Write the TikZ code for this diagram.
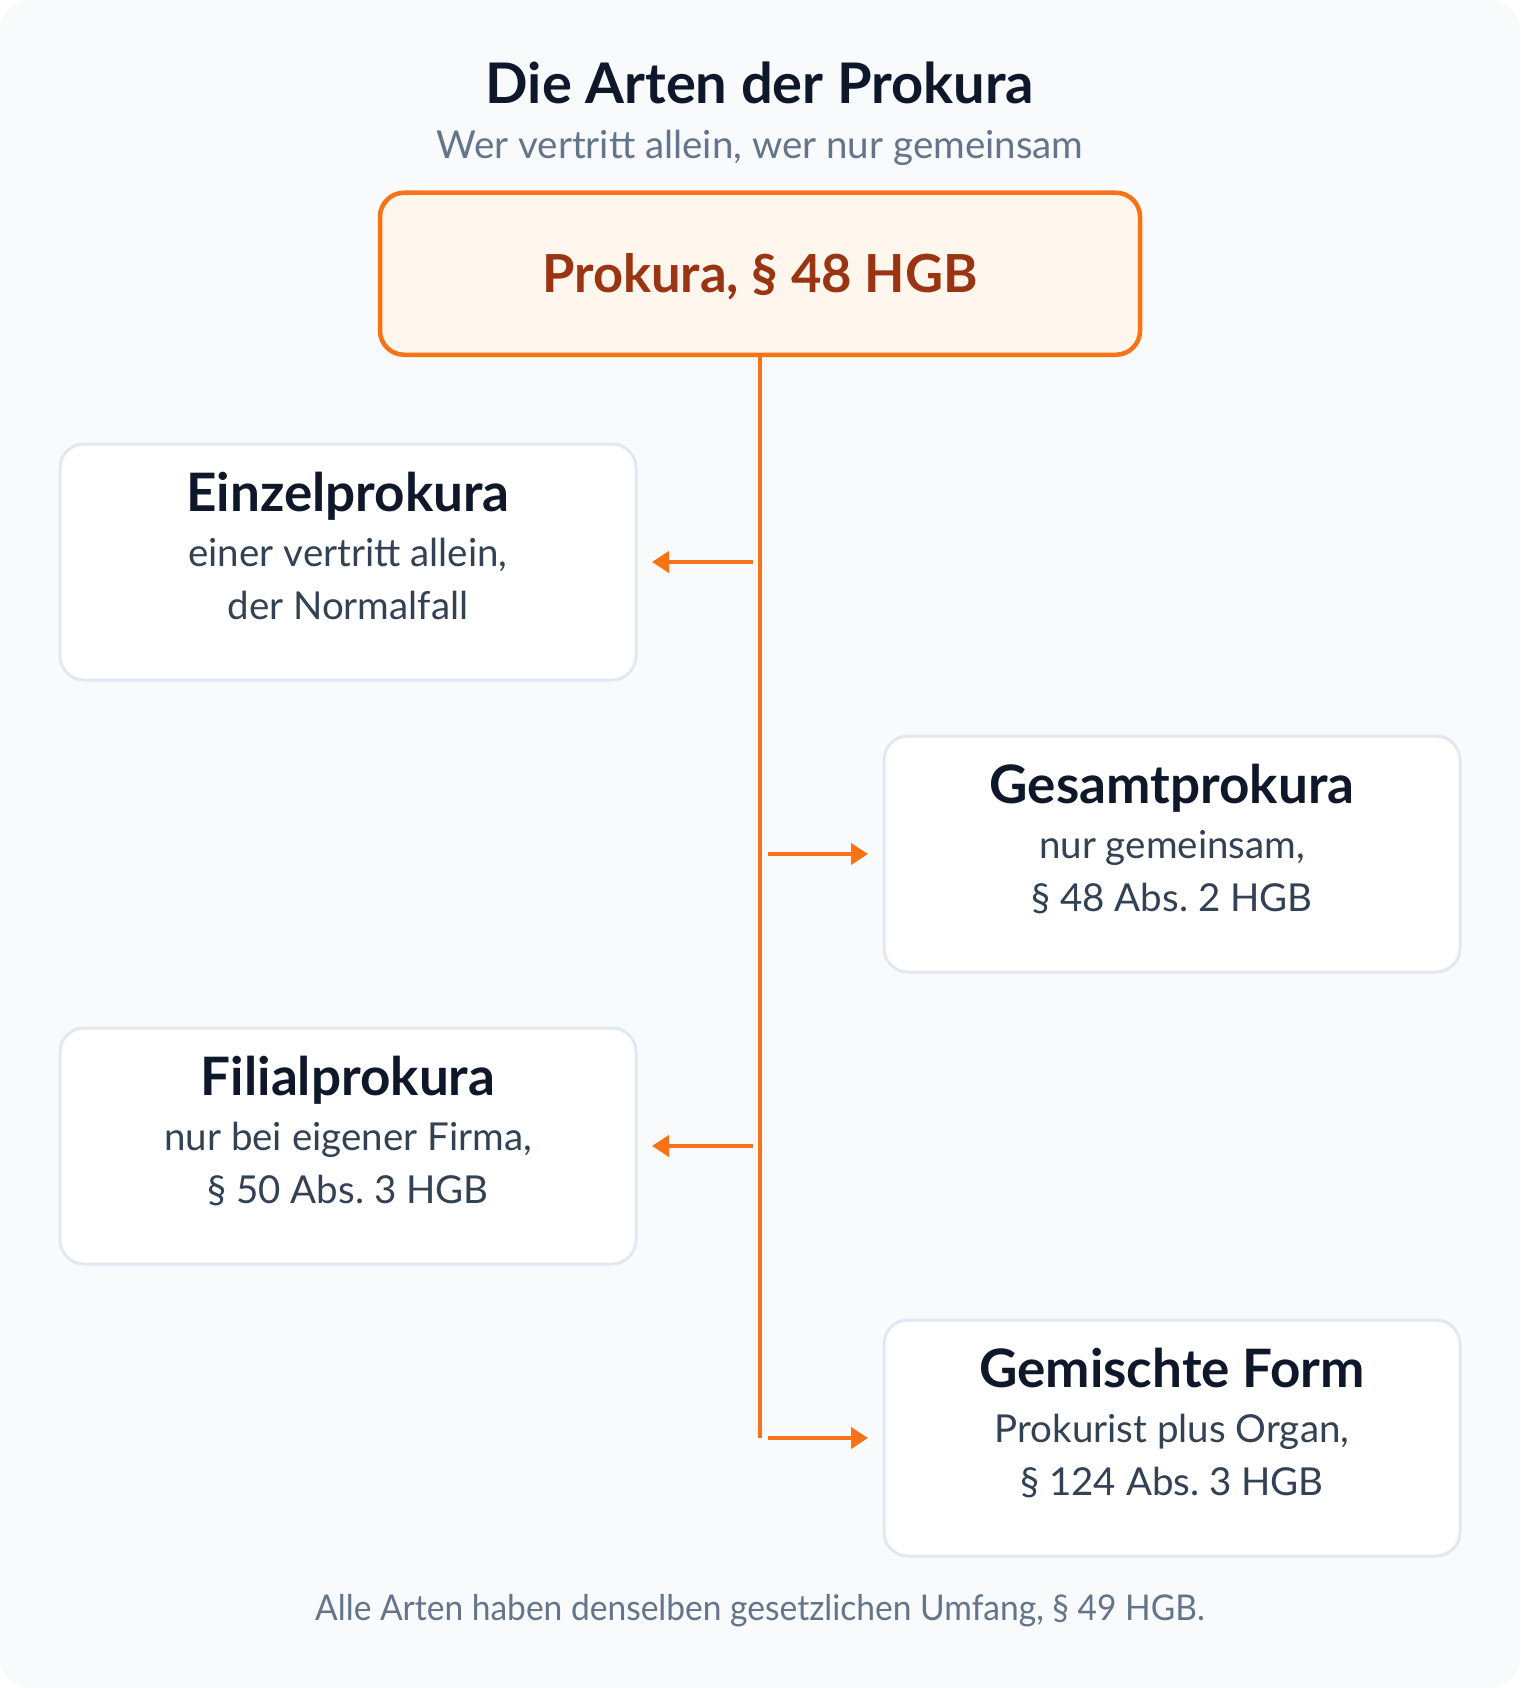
\documentclass[tikz,border=0pt]{standalone}
\usepackage{fontspec}
\usepackage{graphicx}
\setmainfont{Lato}
\usetikzlibrary{arrows.meta}
\definecolor{bgc}{HTML}{F8FAFC}
\definecolor{cardb}{HTML}{E2E8F0}
\definecolor{orng}{HTML}{F97316}
\definecolor{mainfill}{HTML}{FFF7ED}
\definecolor{maintext}{HTML}{9A3412}
\definecolor{dark}{HTML}{0F172A}
\definecolor{subc}{HTML}{334155}
\definecolor{muted}{HTML}{64748B}
\tikzset{
  card/.style={draw=cardb, line width=3pt, fill=white, rounded corners=24pt,
    minimum width=576pt, minimum height=236pt, outer sep=0pt, inner sep=0pt},
  mainbox/.style={draw=orng, line width=4.5pt, fill=mainfill, rounded corners=24pt,
    minimum width=760pt, minimum height=162pt, outer sep=0pt, inner sep=0pt},
  cardtitle/.style={anchor=base, inner sep=0pt, text=dark, font=\fontsize{53}{63}\selectfont\bfseries},
  cardline/.style={anchor=base, inner sep=0pt, text=subc, font=\fontsize{38.5}{46}\selectfont},
  link/.style={draw=orng, line width=4.5pt},
  arr/.style={draw=orng, line width=4.5pt, -{Triangle[length=17pt,width=21pt]}}
}
\begin{document}
\frenchspacing
\begin{tikzpicture}[x=1pt,y=-1pt]
\useasboundingbox (0,0) rectangle (1520,1688);
\fill[white] (0,0) rectangle (1520,1688);
\fill[bgc, rounded corners=32pt] (0,0) rectangle (1520,1688);

\node[anchor=base, inner sep=0pt, text=dark, font=\fontsize{56}{66}\selectfont\bfseries] (title) at (760,103.5) {Die Arten der Prokura};
\node[anchor=base, inner sep=0pt, text=muted, font=\fontsize{38.5}{46}\selectfont] (subtitle) at (760,158.3) {Wer vertritt allein, wer nur gemeinsam};

\node[mainbox] (main) at (760,273.75) {};
\node[anchor=base, inner sep=0pt, text=maintext, font=\fontsize{52.5}{62}\selectfont\bfseries] (mainT) at (760,292.5) {Prokura, § 48 HGB};

\node[card] (einzel) at (348,562) {};
\node[cardtitle] (einzelT) at (348,511.7) {Einzelprokura};
\node[cardline] (einzelA) at (348,566.7) {einer vertritt allein,};
\node[cardline] (einzelB) at (348,619.3) {der Normalfall};

\node[card] (gesamt) at (1172,854) {};
\node[cardtitle] (gesamtT) at (1172,803.7) {Gesamtprokura};
\node[cardline] (gesamtA) at (1172,858.7) {nur gemeinsam,};
\node[cardline] (gesamtB) at (1172,911.3) {§ 48 Abs. 2 HGB};

\node[card] (filial) at (348,1146) {};
\node[cardtitle] (filialT) at (348,1095.7) {Filialprokura};
\node[cardline] (filialA) at (348,1150.7) {nur bei eigener Firma,};
\node[cardline] (filialB) at (348,1203.3) {§ 50 Abs. 3 HGB};

\node[card] (gemischt) at (1172,1438) {};
\node[cardtitle] (gemischtT) at (1172,1387.7) {Gemischte Form};
\node[cardline] (gemischtA) at (1172,1442.7) {Prokurist plus Organ,};
\node[cardline] (gemischtB) at (1172,1495.3) {§ 124 Abs. 3 HGB};

\node[anchor=base, inner sep=0pt, text=muted, font=\fontsize{35.5}{43}\selectfont] (footer) at (760,1620.3) {\scalebox{0.945}[1]{Alle Arten haben denselben gesetzlichen Umfang, § 49 HGB.}};

\coordinate (trunkend) at (760,1438);
\coordinate (s1) at (753,562);
\coordinate (s2) at (768,854);
\coordinate (s3) at (753,1146);
\coordinate (s4) at (768,1438);

\draw[link] (main.south) -- (trunkend);
\draw[arr, shorten >=16pt] (s1) -- (einzel.east);
\draw[arr, shorten >=16pt] (s2) -- (gesamt.west);
\draw[arr, shorten >=16pt] (s3) -- (filial.east);
\draw[arr, shorten >=16pt] (s4) -- (gemischt.west);
\end{tikzpicture}
\end{document}
